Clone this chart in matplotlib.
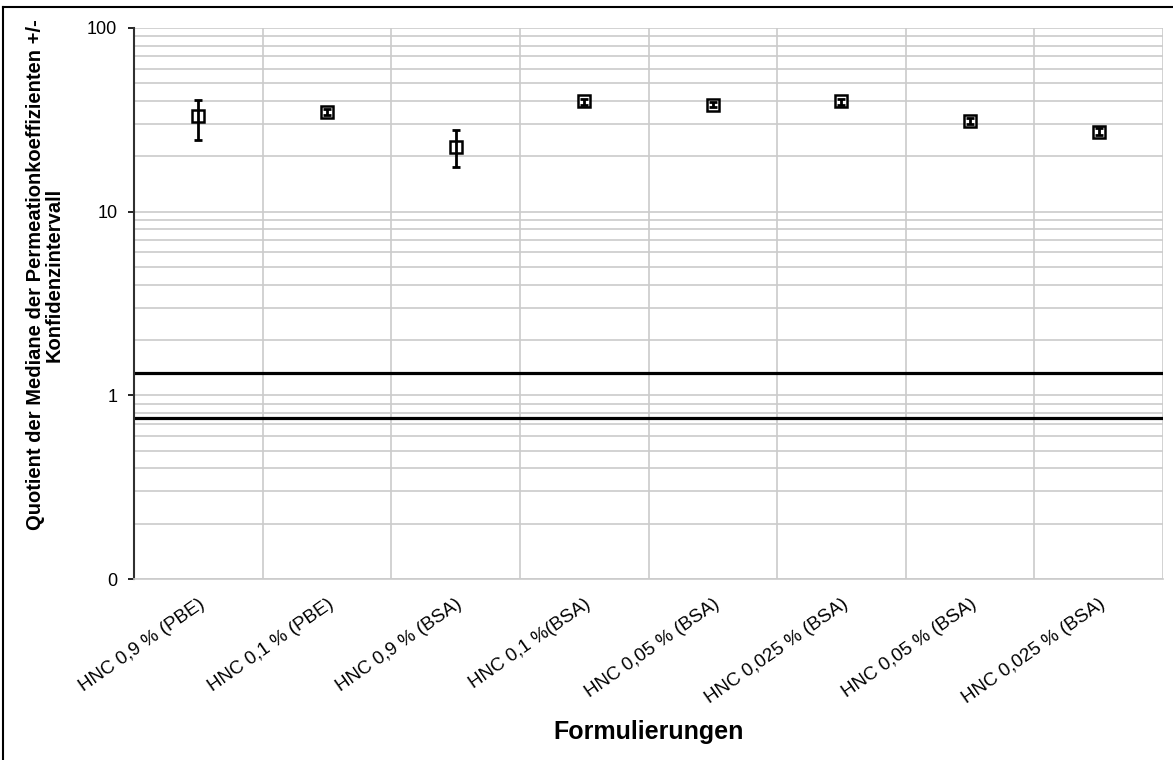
import matplotlib
matplotlib.use("Agg")
import matplotlib.pyplot as plt
from matplotlib.ticker import FixedLocator, FixedFormatter, LogLocator, NullFormatter
from matplotlib.lines import Line2D
import matplotlib.transforms as mtransforms
import numpy as np

plt.rcParams['font.family'] = ['Liberation Sans', 'DejaVu Sans']

categories = ["HNC 0,9 % (PBE)", "HNC 0,1 % (PBE)", "HNC 0,9 % (BSA)", "HNC 0,1 %(BSA)",
              "HNC 0,05 % (BSA)", "HNC 0,025 % (BSA)", "HNC 0,05 % (BSA)", "HNC 0,025 % (BSA)"]
values = [33.0, 35.0, 22.6, 39.8, 38.3, 39.8, 31.3, 27.3]
err_low = [8.3, 1.3, 5.2, 1.5, 1.3, 1.5, 1.1, 1.1]
err_high = [7.7, 1.3, 5.4, 1.5, 1.3, 1.5, 1.1, 1.1]
limit_lines = [0.75, 1.33]
ytick_values = [0.1, 1, 10, 100]
ytick_labels = ["0", "1", "10", "100"]

W, H = 1173, 760
fig = plt.figure(figsize=(W / 100, H / 100), dpi=100)
L, R, T, B = 134, 1163, 28, 579
ax = fig.add_axes([L / W, 1 - B / H, (R - L) / W, (B - T) / H])

x = np.arange(len(categories))
ax.set_yscale('log')
ax.set_ylim(0.1, 100)
ax.set_xlim(-0.5, len(categories) - 0.5)

ax.yaxis.set_major_locator(FixedLocator(ytick_values))
ax.yaxis.set_major_formatter(FixedFormatter(ytick_labels))
ax.yaxis.set_minor_locator(LogLocator(base=10, subs=np.arange(2, 10)))
ax.yaxis.set_minor_formatter(NullFormatter())
grid_col = '#cbcbcb'
ax.grid(True, which='both', axis='y', color=grid_col, linewidth=1.2, zorder=0)
for b in np.arange(0.5, len(categories), 1.0):
    ax.axvline(b, color=grid_col, linewidth=1.2, zorder=0)

for v in limit_lines:
    ax.axhline(v, color='black', linewidth=2.3, zorder=2)

ax.plot(x, values, linestyle='none', marker='s', mfc='white', mec='black',
        mew=1.8, ms=8, zorder=3)
ax.errorbar(x, values, yerr=[err_low, err_high], fmt='none',
            ecolor='black', elinewidth=2.0, capsize=2.8, capthick=2.0, zorder=4)

ax.set_xticks(x)
ax.set_xticklabels(categories, rotation=35, ha='right', va='top', rotation_mode='anchor', fontsize=13.5)
offset = mtransforms.ScaledTranslation(2 / 100, 0, fig.dpi_scale_trans)
for lbl in ax.get_xticklabels():
    lbl.set_transform(lbl.get_transform() + offset)
ax.tick_params(axis='x', length=0, pad=12)
ax.tick_params(axis='y', which='major', length=4, width=1.2, direction='out', labelsize=13, pad=8)
ax.tick_params(axis='y', which='minor', length=0)

for s in ['top', 'right']:
    ax.spines[s].set_visible(False)
ax.spines['bottom'].set_color(grid_col)
ax.spines['bottom'].set_linewidth(1.2)
ax.spines['left'].set_color('#303030')
ax.spines['left'].set_linewidth(1.5)

ax.set_ylabel("Quotient der Mediane der Permeationkoeffizienten +/-\nKonfidenzintervall",
              fontsize=14.5, fontweight='bold', linespacing=1.0)
ax.yaxis.set_label_coords((64 - L) / (R - L), (B - 275) / (B - T), transform=ax.transAxes)
ax.set_xlabel("Formulierungen", fontsize=18, fontweight='bold')
ax.xaxis.set_label_coords(0.5, (B - 720) / (B - T), transform=ax.transAxes)

# outer frame
fig.add_artist(Line2D([3 / W, 3 / W], [0, 1 - 7 / H], transform=fig.transFigure, color='black', lw=1.5))
fig.add_artist(Line2D([3 / W, 1], [1 - 7 / H, 1 - 7 / H], transform=fig.transFigure, color='black', lw=1.5))

fig.savefig("out.png", dpi=100)
